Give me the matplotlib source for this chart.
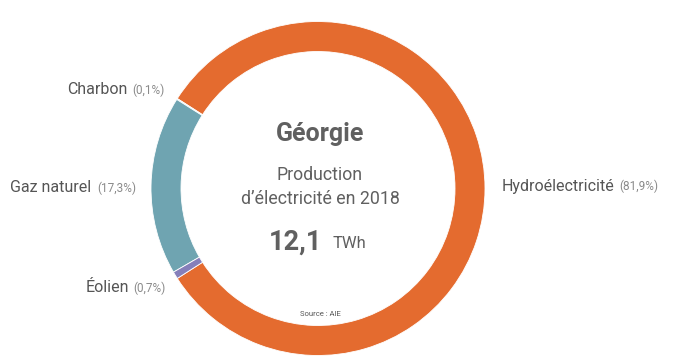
import matplotlib.pyplot as plt

plt.rcParams['font.family'] = ['Roboto', 'DejaVu Sans']

# donut data (counterclockwise from the right-hand side)
sources = ["Hydroélectricité", "Charbon", "Gaz naturel", "Éolien"]
shares = [81.9, 0.1, 17.3, 0.7]
share_labels = ["(81,9%)", "(0,1%)", "(17,3%)", "(0,7%)"]
colors = ["#E46B2F", "#A6D8E6", "#6FA4B1", "#857FBA"]

W, H = 676, 363
fig = plt.figure(figsize=(W / 100, H / 100), dpi=100)
ax = fig.add_axes([0, 0, 1, 1])

cx, cy = 318, H - 188.5
R = 167
start = -shares[0] * 3.6 / 2
wedges, _ = ax.pie(shares, colors=colors, startangle=start, counterclock=True,
                   center=(cx, cy), radius=R, frame=True,
                   wedgeprops=dict(width=30, edgecolor='white', linewidth=0.6))
ax.set_xlim(0, W)
ax.set_ylim(0, H)
ax.set_aspect('equal')
ax.axis('off')

name_col = '#555555'
pct_col = '#8a8a8a'

# labels: (x of name, x of pct, y pixel)
label_pos = {
    "Hydroélectricité": (502, 619, 186),
    "Charbon": (67, 132, 90),
    "Gaz naturel": (10, 97, 188),
    "Éolien": (86, 133, 288),
}
for name, pct in zip(sources, share_labels):
    xn, xp, yp = label_pos[name]
    ax.text(xn, H - yp, name, fontsize=11.5, color=name_col, ha='left', va='center')
    ax.text(xp, H - yp, pct, fontsize=8.5, color=pct_col, ha='left', va='center')

# centre texts
ax.text(cx + 2, H - 134, "Géorgie", fontsize=18, fontweight='bold', color='#606060',
        ha='center', va='center')
ax.text(cx + 2, H - 175, "Production", fontsize=12.8, color='#606060', ha='center', va='center')
ax.text(cx + 2, H - 199, "d’électricité en 2018", fontsize=12.8, color='#606060',
        ha='center', va='center')
ax.text(322, H - 242, "12,1", fontsize=19.5, fontweight='bold', color='#606060',
        ha='right', va='center')
ax.text(333, H - 243, "TWh", fontsize=12, color='#606060', ha='left', va='center')
ax.text(cx + 2, H - 314, "Source : AIE", fontsize=5.5, color='#555555', ha='center', va='center')

fig.savefig('out.png', dpi=100)
